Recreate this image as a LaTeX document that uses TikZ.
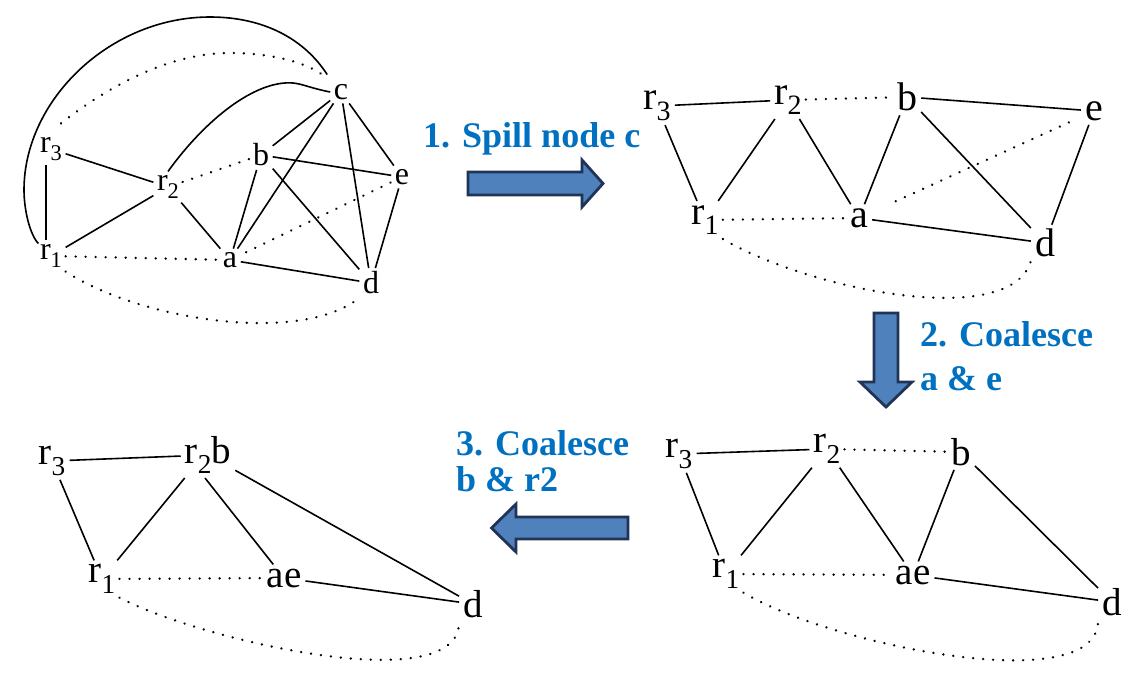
\documentclass[tikz,border=0pt]{standalone}
\usepackage{fontspec}
\setmainfont{Liberation Serif}
\definecolor{lblue}{RGB}{0,112,192}
\definecolor{afill}{RGB}{79,129,189}
\definecolor{aedge}{RGB}{31,52,86}
\newcommand{\sbs}[1]{\raisebox{-0.27em}{\scalebox{0.7}{#1}}}
\tikzset{
  va/.style={inner sep=3.5pt, font=\fontsize{32}{32}\selectfont},
  vb/.style={inner sep=4pt, font=\fontsize{40}{40}\selectfont},
  vc/.style={inner sep=4pt, font=\fontsize{39}{39}\selectfont},
  sol/.style={line width=1.6},
  dot/.style={line width=2.6, line cap=round, dash pattern=on 0.01pt off 10pt},
  lbl/.style={text=lblue, font=\fontsize{36}{36}\selectfont\bfseries, inner sep=0pt, anchor=base west},
  bigarrow/.style={fill=afill, draw=aedge, line width=2.8, line join=miter}
}
\begin{document}
\begin{tikzpicture}[x=1pt,y=-1pt]
\useasboundingbox[fill=white] (0,0) rectangle (1143,675);

% ---------- graph 1 (top left) ----------
\node[va] (A-c)  at (341,92)  {c};
\node[va] (A-r3) at (51,149)  {r\sbs{3}};
\node[va] (A-r2) at (168,187) {r\sbs{2}};
\node[va] (A-b)  at (261,155) {b};
\node[va] (A-e)  at (402,177) {e};
\node[va] (A-r1) at (51,256)  {r\sbs{1}};
\node[va] (A-a)  at (230,260) {a};
\node[va] (A-d)  at (371,283) {d};

\draw[sol] (A-r3) -- (A-r2);
\draw[sol] ([xshift=-5]A-r3.south) -- ([xshift=-5]A-r1.north);
\draw[sol] (A-r1) -- (A-r2);
\draw[sol] (A-r2) -- (A-a);
\draw[sol] (A-c) -- (A-b);
\draw[sol] (A-c) -- (A-a);
\draw[sol] (A-c) -- (A-d);
\draw[sol] (A-c) -- (A-e);
\draw[sol] (A-b) -- (A-e);
\draw[sol] (A-b) -- (A-a);
\draw[sol] (A-b) -- (A-d);
\draw[sol] (A-a) -- (A-d);
\draw[sol] (A-e) -- (A-d);
\draw[dot] (A-r2) -- (A-b);
\draw[dot] (A-r1) -- (A-a);
\draw[dot, shorten <=6pt] (A-a) -- (A-e);
% big solid arc r1 -> c
\draw[sol] ([shift={(2,3)}]A-r1.north west) .. controls (30,235) and (24,210) .. (24,190)
  .. controls (24,100) and (110,17) .. (210,17)
  .. controls (265,17) and (305,40) .. ([shift={(-3,-6)}]A-c.north west);
% dotted arc r3 -> c
\draw[dot] ([shift={(10,-10)}]A-r3.north) .. controls (110,85) and (170,53) .. (230,53)
  .. controls (270,53) and (305,62) .. ([shift={(-8,-6)}]A-c.north west);
% solid curve r2 -> c
\draw[sol] (A-r2.north) .. controls (205,120) and (255,80) .. (293,83)
  .. controls (303,84) and (310,88) .. (A-c.west);
% dotted bottom r1 -> d
\draw[dot] (A-r1.south east) .. controls (140,320) and (300,345) .. (A-d.south west);

% ---------- graph 2 (top right) ----------
\node[vb] (B-r3) at (657,106) {r\sbs{3}};
\node[vb] (B-r2) at (788,100) {r\sbs{2}};
\node[vb] (B-b)  at (907,97)  {b};
\node[vb] (B-e)  at (1094,111) {e};
\node[vb] (B-r1) at (705,220) {r\sbs{1}};
\node[vb] (B-a)  at (859,218) {a};
\node[vb] (B-d)  at (1045,243) {d};

\draw[sol] (B-r3) -- (B-r2);
\draw[sol] (B-b) -- (B-e);
\draw[sol] (B-r3) -- (B-r1);
\draw[sol] (B-r1) -- (B-r2);
\draw[sol] (B-r2) -- (B-a);
\draw[sol] (B-b) -- (B-a);
\draw[sol] (B-b) -- (B-d);
\draw[sol] (B-e) -- (B-d);
\draw[sol] (B-a) -- (B-d);
\draw[dot] (B-r2) -- (B-b);
\draw[dot, shorten <=26pt, shorten >=10pt] (B-a) -- (B-e);
\draw[dot] (B-r1) -- (B-a);
\draw[dot] (B-r1.south east) .. controls (810,290) and (1010,330) .. (B-d.south west);

% ---------- graph 3 (bottom right) ----------
\node[vc] (C-r3) at (679,454) {r\sbs{3}};
\node[vc] (C-r2) at (827,449) {r\sbs{2}};
\node[vc] (C-b)  at (961,452) {b};
\node[vc] (C-r1) at (726,574) {r\sbs{1}};
\node[vc] (C-ae) at (913,575) {ae};
\node[vc] (C-d)  at (1112,602) {d};

\draw[sol] (C-r3) -- (C-r2);
\draw[sol] (C-r3) -- (C-r1);
\draw[sol] (C-r1) -- (C-r2);
\draw[sol] (C-r2) -- (C-ae);
\draw[sol] (C-b) -- (C-ae);
\draw[sol] (C-b) -- (C-d);
\draw[sol] (C-ae) -- (C-d);
\draw[dot] (C-r2) -- (C-b);
\draw[dot] (C-r1) -- (C-ae);
\draw[dot] (C-r1.south east) .. controls (830,645) and (1100,700) .. (C-d.south west);

% ---------- graph 4 (bottom left) ----------
\node[vc] (D-r3)  at (52,461)  {r\sbs{3}};
\node[vc] (D-r2b) at (208,455) {r\sbs{2}b};
\node[vc] (D-r1)  at (102,579) {r\sbs{1}};
\node[vc] (D-ae)  at (284,578) {ae};
\node[vc] (D-d)   at (473,604) {d};

\draw[sol] (D-r3) -- (D-r2b);
\draw[sol] (D-r3) -- (D-r1);
\draw[sol] ([xshift=4]D-r2b.south west) -- (D-r1);
\draw[sol] ([xshift=-3]D-r2b.south) -- (D-ae);
\draw[sol] (D-r2b) -- (D-d);
\draw[sol] (D-ae) -- (D-d);
\draw[dot] (D-r1) -- (D-ae);
\draw[dot] (D-r1.south east) .. controls (200,640) and (460,700) .. (D-d.south west);

% ---------- step arrows and labels ----------
\draw[bigarrow] (468,172) -- (582,172) -- (582,160) -- (603,183.5) -- (582,207) -- (582,195) -- (468,195) -- cycle;
\node[lbl] (L1) at (423,147) {1. Spill node c};

\draw[bigarrow] (874,313) -- (898,313) -- (898,382) -- (912,382) -- (886,407) -- (860,382) -- (874,382) -- cycle;
\node[lbl] (L2a) at (920,346) {2. Coalesce};
\node[lbl] (L2b) at (920,390) {a \& e};

\draw[bigarrow] (628,517) -- (516,517) -- (516,504) -- (491.5,528) -- (516,552) -- (516,539) -- (628,539) -- cycle;
\node[lbl] (L3a) at (456,455) {3. Coalesce};
\node[lbl] (L3b) at (456,491) {b \& r2};
\end{tikzpicture}
\end{document}
